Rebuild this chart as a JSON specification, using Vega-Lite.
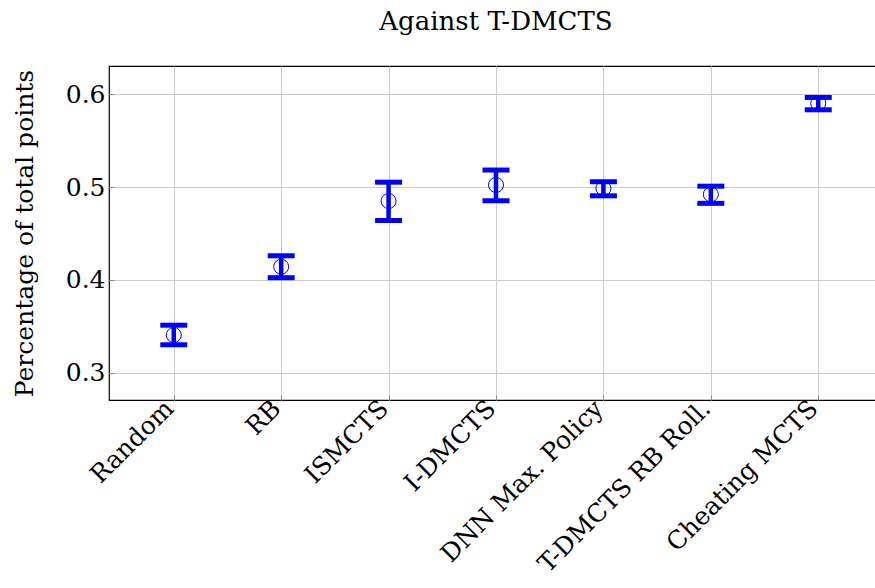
{
  "$schema": "https://vega.github.io/schema/vega-lite/v6.json",
  "width": 774,
  "height": 334,
  "padding": {"left": 12, "top": 9, "right": 0, "bottom": 0},
  "background": "white",
  "title": {
    "text": "Against T-DMCTS",
    "font": "DejaVu Serif",
    "fontSize": 26,
    "fontWeight": "normal",
    "color": "black",
    "anchor": "middle",
    "offset": 31
  },
  "data": {
    "values": [
      {"name": "Random", "mean": 0.3406, "lo": 0.3301, "hi": 0.3512},
      {"name": "RB", "mean": 0.4142, "lo": 0.4024, "hi": 0.4260},
      {"name": "ISMCTS", "mean": 0.4850, "lo": 0.4640, "hi": 0.5053},
      {"name": "I-DMCTS", "mean": 0.5023, "lo": 0.4853, "hi": 0.5184},
      {"name": "DNN Max. Policy", "mean": 0.4987, "lo": 0.4906, "hi": 0.5058},
      {"name": "T-DMCTS RB Roll.", "mean": 0.4922, "lo": 0.4825, "hi": 0.5010},
      {"name": "Cheating MCTS", "mean": 0.5903, "lo": 0.5833, "hi": 0.5966}
    ]
  },
  "config": {
    "view": {"stroke": "black", "strokeWidth": 1.2},
    "axis": {
      "labelFont": "DejaVu Serif",
      "titleFont": "DejaVu Serif",
      "labelFontSize": 25,
      "titleFontSize": 25,
      "titleFontWeight": "normal",
      "labelColor": "black",
      "titleColor": "black",
      "domain": false,
      "gridColor": "#cccccc",
      "gridWidth": 1,
      "tickColor": "#888888",
      "tickSize": -5,
      "tickWidth": 1
    }
  },
  "encoding": {
    "x": {
      "field": "name",
      "type": "nominal",
      "sort": null,
      "scale": {"type": "point", "padding": 0.603},
      "axis": {
        "title": null,
        "grid": true,
        "labelAngle": -45,
        "labelAlign": "right",
        "labelBaseline": "middle",
        "labelPadding": 9,
        "labelOffset": -5,
        "labelLimit": 400
      }
    }
  },
  "layer": [
    {
      "mark": {"type": "point", "shape": "circle", "filled": false, "color": "#0000ff", "size": 225, "strokeWidth": 1, "opacity": 1},
      "encoding": {
        "y": {
          "field": "mean",
          "type": "quantitative",
          "scale": {"domain": [0.2706, 0.6305], "nice": false, "zero": false},
          "axis": {
            "title": "Percentage of total points",
            "values": [0.3, 0.4, 0.5, 0.6],
            "format": ".1f",
            "grid": true,
            "labelPadding": 9,
            "titlePadding": 28
          }
        }
      }
    },
    {
      "mark": {"type": "rule", "color": "#0000ff", "strokeWidth": 4.5},
      "encoding": {
        "y": {"field": "lo", "type": "quantitative"},
        "y2": {"field": "hi"}
      }
    },
    {
      "mark": {"type": "tick", "orient": "horizontal", "color": "#0000ff", "size": 27, "thickness": 5, "opacity": 1},
      "encoding": {
        "y": {"field": "lo", "type": "quantitative"}
      }
    },
    {
      "mark": {"type": "tick", "orient": "horizontal", "color": "#0000ff", "size": 27, "thickness": 5, "opacity": 1},
      "encoding": {
        "y": {"field": "hi", "type": "quantitative"}
      }
    }
  ]
}
